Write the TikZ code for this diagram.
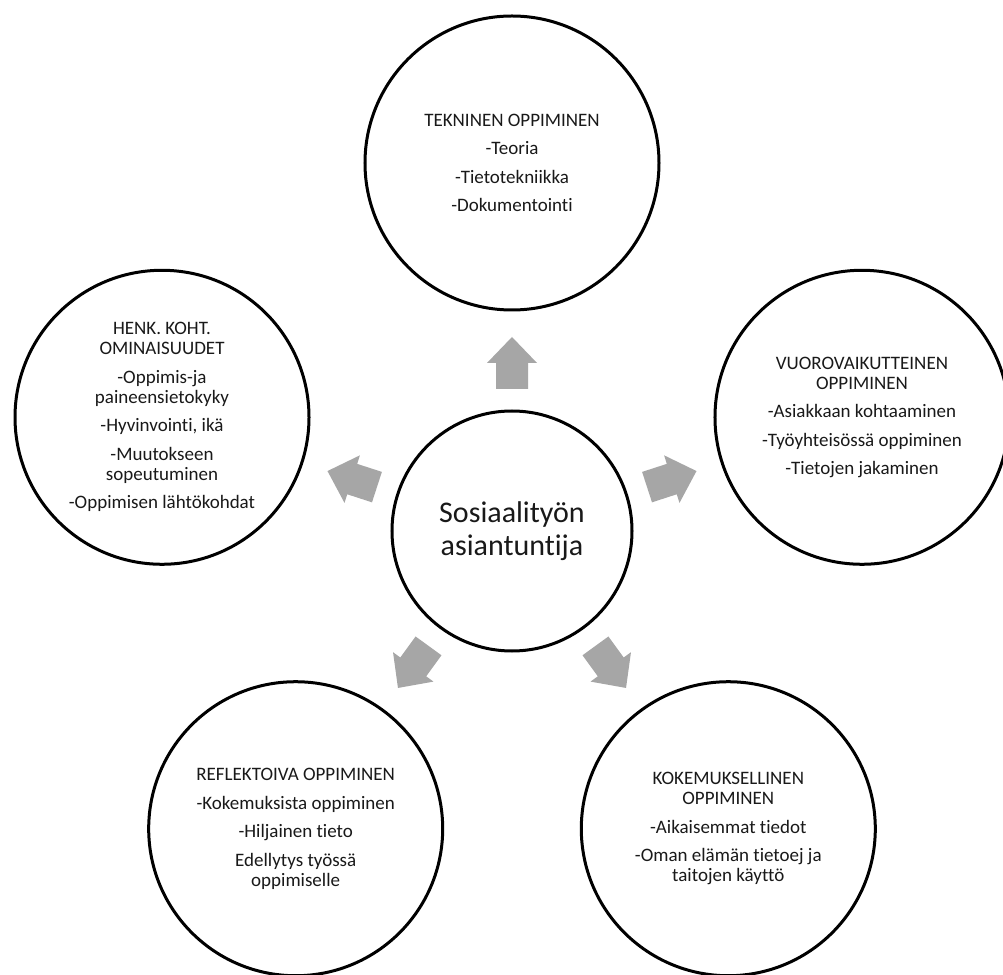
\documentclass[tikz,border=0pt]{standalone}
\usepackage{fontspec}
\setmainfont{Carlito}[Ligatures={NoCommon}]
\definecolor{arrowgray}{RGB}{166,166,166}
\definecolor{txt}{RGB}{25,25,25}
\begin{document}
\begin{tikzpicture}[x=1pt,y=1pt,
  outer/.style={circle, draw=black, line width=3pt, minimum size=294pt, inner sep=0pt,
    align=center, text=txt, font=\fontsize{19}{20}\selectfont},
  centre/.style={circle, draw=black, line width=3pt, minimum size=240pt, inner sep=0pt,
    align=center, text=txt, font=\fontsize{30}{33}\selectfont},
  blockarrow/.style={fill=arrowgray}]
\useasboundingbox (-512,-443) rectangle (491,531);
\clip (-512,-443) rectangle (491,531);
\fill[white] (-512,-443) rectangle (491,531);
\node[centre] (c) at (0,0) {Sosiaalityön\\asiantuntija};
\node[outer] (top) at (90:368) {TEKNINEN OPPIMINEN\\[8.5pt]-Teoria\\[8.5pt]-Tietotekniikka\\[8.5pt]-Dokumentointi};
\node[outer] (left) at (162:368) {HENK. KOHT.\\OMINAISUUDET\\[8.5pt]-Oppimis-ja\\paineensietokyky\\[8.5pt]-Hyvinvointi, ikä\\[8.5pt]-Muutokseen\\sopeutuminen\\[8.5pt]-Oppimisen lähtökohdat};
\node[outer] (right) at (18:368) {VUOROVAIKUTTEINEN\\OPPIMINEN\\[8.5pt]-Asiakkaan kohtaaminen\\[8.5pt]-Työyhteisössä oppiminen\\[8.5pt]-Tietojen jakaminen};
\node[outer] (bl) at (234:368) {REFLEKTOIVA OPPIMINEN\\[8.5pt]-Kokemuksista oppiminen\\[8.5pt]-Hiljainen tieto\\[8.5pt]Edellytys työssä\\oppimiselle};
\node[outer] (br) at (306:368) {KOKEMUKSELLINEN\\OPPIMINEN\\[8.5pt]-Aikaisemmat tiedot\\[8.5pt]-Oman elämän tietoej ja\\taitojen käyttö};
\foreach \a in {90,162,18,234,306}
  \fill[blockarrow, rotate=\a] (142,-16) -- (168,-16) -- (168,-25) -- (194,0)
     -- (168,25) -- (168,16) -- (142,16) -- cycle;
\end{tikzpicture}
\end{document}
